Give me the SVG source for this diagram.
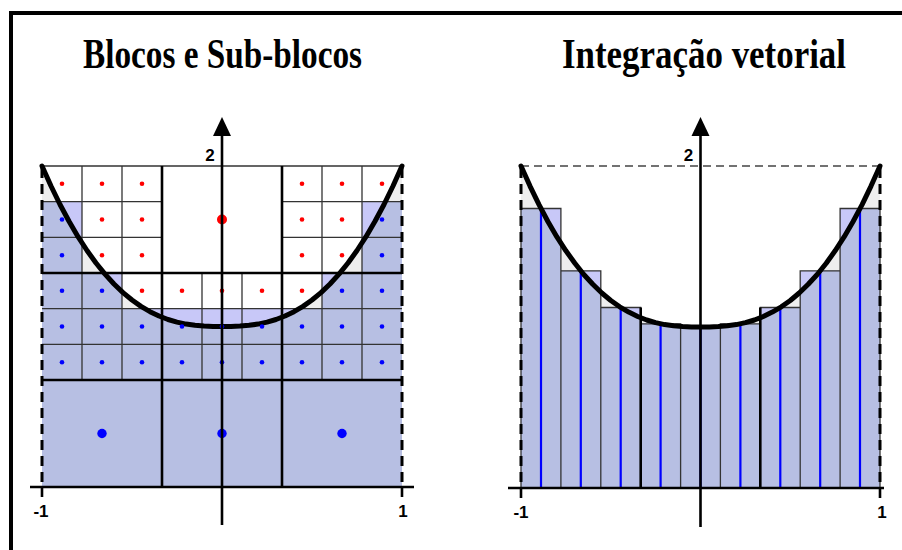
<svg xmlns="http://www.w3.org/2000/svg" width="902" height="550" viewBox="0 0 902 550">
<style>
.title{font-family:"Liberation Serif","Times New Roman",serif;font-weight:bold;font-size:42px;fill:#000}
.lbl{font-family:"Liberation Sans",Arial,sans-serif;font-weight:bold;font-size:17px;fill:#000}
.gray{fill:#eeeeee}
.lav{fill:#c8c8f8}
.dkb{fill:#b7bfe3}
.thin{stroke:#333;stroke-width:1.3;fill:none}
.thick{stroke:#000;stroke-width:2.6;fill:none}
.dash{stroke:#000;stroke-width:3;stroke-dasharray:10 6;fill:none}
.dashg{stroke:#444;stroke-width:1.5;stroke-dasharray:8 5;fill:none}
.curve{stroke:#000;stroke-width:5;fill:none;stroke-linejoin:round;stroke-linecap:round}
.axis{stroke:#000;stroke-width:2.6;fill:none}
.r{fill:#ff0000}
.b{fill:#0000ff}
.bar{fill:none;stroke:#333;stroke-width:1.3}
.vl{stroke:#0000ff;stroke-width:2.2}
</style>
<defs>
<path id="curveL" d="M42,166 L51,186 L60,204.5 L69,221.3 L78,236.7 L87,250.5 L96,263 L105,274.1 L114,284 L123,292.6 L132,300 L141,306.4 L150,311.7 L159,316 L168,319.5 L177,322.1 L186,324.1 L195,325.3 L204,326.1 L213,326.4 L222,326.5 L231,326.4 L240,326.1 L249,325.3 L258,324.1 L267,322.1 L276,319.5 L285,316 L294,311.7 L303,306.4 L312,300 L321,292.6 L330,284 L339,274.1 L348,263 L357,250.5 L366,236.7 L375,221.3 L384,204.5 L393,186 L402,166"/>
<path id="curveR" d="M521,166 L530,186.1 L539,204.6 L547.9,221.5 L556.9,236.9 L565.9,250.8 L574.9,263.3 L583.8,274.5 L592.8,284.3 L601.8,293 L610.8,300.5 L619.7,306.8 L628.7,312.1 L637.7,316.5 L646.7,320 L655.6,322.6 L664.6,324.6 L673.6,325.8 L682.6,326.6 L691.5,326.9 L700.5,327 L709.5,326.9 L718.4,326.6 L727.4,325.8 L736.4,324.6 L745.4,322.6 L754.4,320 L763.3,316.5 L772.3,312.1 L781.3,306.8 L790.3,300.5 L799.2,293 L808.2,284.3 L817.2,274.5 L826.2,263.3 L835.1,250.8 L844.1,236.9 L853.1,221.5 L862.1,204.6 L871,186.1 L880,166"/>
<clipPath id="underL"><path d="M42,166 L51,186 L60,204.5 L69,221.3 L78,236.7 L87,250.5 L96,263 L105,274.1 L114,284 L123,292.6 L132,300 L141,306.4 L150,311.7 L159,316 L168,319.5 L177,322.1 L186,324.1 L195,325.3 L204,326.1 L213,326.4 L222,326.5 L231,326.4 L240,326.1 L249,325.3 L258,324.1 L267,322.1 L276,319.5 L285,316 L294,311.7 L303,306.4 L312,300 L321,292.6 L330,284 L339,274.1 L348,263 L357,250.5 L366,236.7 L375,221.3 L384,204.5 L393,186 L402,166 L402,487 L42,487 Z"/></clipPath>
<clipPath id="underR"><path d="M521,166 L530,186.1 L539,204.6 L547.9,221.5 L556.9,236.9 L565.9,250.8 L574.9,263.3 L583.8,274.5 L592.8,284.3 L601.8,293 L610.8,300.5 L619.7,306.8 L628.7,312.1 L637.7,316.5 L646.7,320 L655.6,322.6 L664.6,324.6 L673.6,325.8 L682.6,326.6 L691.5,326.9 L700.5,327 L709.5,326.9 L718.4,326.6 L727.4,325.8 L736.4,324.6 L745.4,322.6 L754.4,320 L763.3,316.5 L772.3,312.1 L781.3,306.8 L790.3,300.5 L799.2,293 L808.2,284.3 L817.2,274.5 L826.2,263.3 L835.1,250.8 L844.1,236.9 L853.1,221.5 L862.1,204.6 L871,186.1 L880,166 L880,488 L521,488 Z"/></clipPath>
<path id="blueL" d="M42,201.67 h40 v71.33 h-40 Z M362,201.67 h40 v71.33 h-40 Z M42,273 h80 v35.67 h-80 Z M322,273 h80 v35.67 h-80 Z M42,308.67 h360 v178.33 h-360 Z"/>
<path id="barsR" d="M521,208.5 h39.9 v279.5 h-39.9 Z M560.9,270.8 h39.9 v217.2 h-39.9 Z M600.8,307.5 h39.9 v180.5 h-39.9 Z M640.7,323.8 h39.9 v164.2 h-39.9 Z M680.6,327 h39.8 v161 h-39.8 Z M720.4,323.8 h39.9 v164.2 h-39.9 Z M760.3,307.5 h39.9 v180.5 h-39.9 Z M800.2,270.8 h39.9 v217.2 h-39.9 Z M840.1,208.5 h39.9 v279.5 h-39.9 Z"/>
</defs>
<rect x="0" y="0" width="902" height="550" fill="#ffffff"/>
<g id="frame">
<path d="M9,13 H902 M11,11 V550" stroke="#000" stroke-width="4" fill="none"/>
</g>
<g id="titles">
<text class="title" x="83" y="68" textLength="279" lengthAdjust="spacingAndGlyphs">Blocos e Sub-blocos</text>
<text class="title" x="562" y="68" textLength="284" lengthAdjust="spacingAndGlyphs">Integração vetorial</text>
</g>
<g id="panel-left">
<g id="fills-left">
<path class="gray" d="M42,166 L51,186 L60,204.5 L69,221.3 L78,236.7 L87,250.5 L96,263 L105,274.1 L114,284 L123,292.6 L132,300 L141,306.4 L150,311.7 L159,316 L168,319.5 L177,322.1 L186,324.1 L195,325.3 L204,326.1 L213,326.4 L222,326.5 L231,326.4 L240,326.1 L249,325.3 L258,324.1 L267,322.1 L276,319.5 L285,316 L294,311.7 L303,306.4 L312,300 L321,292.6 L330,284 L339,274.1 L348,263 L357,250.5 L366,236.7 L375,221.3 L384,204.5 L393,186 L402,166 L402,487 L42,487 Z"/>
<use href="#blueL" class="lav"/>
<use href="#blueL" class="dkb" clip-path="url(#underL)"/>
</g>
<g id="grid-left">
<path class="thin" d="M42,166 H402 M82,166 V380 M122,166 V380 M322,166 V380 M362,166 V380 M202,273 V380 M242,273 V380 M42,201.67 H162 M282,201.67 H402 M42,237.33 H162 M282,237.33 H402 M42,308.67 H402 M42,344.33 H402"/>
<path class="thick" d="M162,166 V487 M282,166 V487 M42,273 H402 M42,380 H402"/>
<path class="dash" d="M42,168 V487 M402,168 V487"/>
</g>
<use href="#curveL" class="curve"/>
<g id="dots-left">
<circle class="r" cx="62" cy="183.8" r="2.3"/><circle class="r" cx="102" cy="183.8" r="2.3"/><circle class="r" cx="142" cy="183.8" r="2.3"/>
<circle class="b" cx="62" cy="219.5" r="2.3"/><circle class="r" cx="102" cy="219.5" r="2.3"/><circle class="r" cx="142" cy="219.5" r="2.3"/>
<circle class="b" cx="62" cy="255.2" r="2.3"/><circle class="r" cx="102" cy="255.2" r="2.3"/><circle class="r" cx="142" cy="255.2" r="2.3"/>
<circle class="r" cx="302" cy="183.8" r="2.3"/><circle class="r" cx="342" cy="183.8" r="2.3"/><circle class="r" cx="382" cy="183.8" r="2.3"/>
<circle class="r" cx="302" cy="219.5" r="2.3"/><circle class="r" cx="342" cy="219.5" r="2.3"/><circle class="b" cx="382" cy="219.5" r="2.3"/>
<circle class="r" cx="302" cy="255.2" r="2.3"/><circle class="r" cx="342" cy="255.2" r="2.3"/><circle class="b" cx="382" cy="255.2" r="2.3"/>
<circle class="r" cx="222" cy="219.5" r="5"/>
<circle class="b" cx="62" cy="290.8" r="2.3"/><circle class="b" cx="102" cy="290.8" r="2.3"/><circle class="r" cx="142" cy="290.8" r="2.3"/><circle class="r" cx="182" cy="290.8" r="2.3"/><circle class="r" cx="222" cy="290.8" r="2.3"/><circle class="r" cx="262" cy="290.8" r="2.3"/><circle class="r" cx="302" cy="290.8" r="2.3"/><circle class="b" cx="342" cy="290.8" r="2.3"/><circle class="b" cx="382" cy="290.8" r="2.3"/>
<circle class="b" cx="62" cy="326.5" r="2.3"/><circle class="b" cx="102" cy="326.5" r="2.3"/><circle class="b" cx="142" cy="326.5" r="2.3"/><circle class="b" cx="182" cy="326.5" r="2.3"/><circle class="b" cx="222" cy="326.5" r="2.3"/><circle class="b" cx="262" cy="326.5" r="2.3"/><circle class="b" cx="302" cy="326.5" r="2.3"/><circle class="b" cx="342" cy="326.5" r="2.3"/><circle class="b" cx="382" cy="326.5" r="2.3"/>
<circle class="b" cx="62" cy="362.2" r="2.3"/><circle class="b" cx="102" cy="362.2" r="2.3"/><circle class="b" cx="142" cy="362.2" r="2.3"/><circle class="b" cx="182" cy="362.2" r="2.3"/><circle class="b" cx="222" cy="362.2" r="2.3"/><circle class="b" cx="262" cy="362.2" r="2.3"/><circle class="b" cx="302" cy="362.2" r="2.3"/><circle class="b" cx="342" cy="362.2" r="2.3"/><circle class="b" cx="382" cy="362.2" r="2.3"/>
<circle class="b" cx="102" cy="433.5" r="4.7"/><circle class="b" cx="222" cy="433.5" r="4.7"/><circle class="b" cx="342" cy="433.5" r="4.7"/>
</g>
<g id="axes-left">
<path class="axis" d="M30,487 H414 M222,134 V525 M42,487 V497 M402,487 V497"/>
<path d="M222,117 L213,136 L231,136 Z" fill="#000"/>
<text class="lbl" x="210" y="161" text-anchor="middle">2</text>
<text class="lbl" x="41" y="517" text-anchor="middle">-1</text>
<text class="lbl" x="403" y="517" text-anchor="middle">1</text>
</g>
</g>
<g id="panel-right">
<g id="fills-right">
<path class="gray" d="M521,166 L530,186.1 L539,204.6 L547.9,221.5 L556.9,236.9 L565.9,250.8 L574.9,263.3 L583.8,274.5 L592.8,284.3 L601.8,293 L610.8,300.5 L619.7,306.8 L628.7,312.1 L637.7,316.5 L646.7,320 L655.6,322.6 L664.6,324.6 L673.6,325.8 L682.6,326.6 L691.5,326.9 L700.5,327 L709.5,326.9 L718.4,326.6 L727.4,325.8 L736.4,324.6 L745.4,322.6 L754.4,320 L763.3,316.5 L772.3,312.1 L781.3,306.8 L790.3,300.5 L799.2,293 L808.2,284.3 L817.2,274.5 L826.2,263.3 L835.1,250.8 L844.1,236.9 L853.1,221.5 L862.1,204.6 L871,186.1 L880,166 L880,488 L521,488 Z"/>
<use href="#barsR" class="lav"/>
<use href="#barsR" class="dkb" clip-path="url(#underR)"/>
</g>
<g id="bars-right">
<use href="#barsR" class="bar"/>
<path class="vl" d="M541,488 V208.5 M580.8,488 V270.8 M620.7,488 V307.5 M660.6,488 V323.8 M700.5,488 V327 M740.4,488 V323.8 M780.3,488 V307.5 M820.2,488 V270.8 M860,488 V208.5"/>
<path class="thick" d="M640.7,488 V307.5 M760.3,488 V307.5"/>
<path class="dashg" d="M521,166 H880"/>
<path class="dash" d="M521,168 V488 M880,168 V488"/>
</g>
<use href="#curveR" class="curve"/>
<g id="axes-right">
<path class="axis" d="M508,488 H884 M700.5,134 V527 M521,488 V498 M880,488 V498"/>
<path d="M700.5,117 L691.5,136 L709.5,136 Z" fill="#000"/>
<text class="lbl" x="688.5" y="161" text-anchor="middle">2</text>
<text class="lbl" x="521" y="518" text-anchor="middle">-1</text>
<text class="lbl" x="882" y="518" text-anchor="middle">1</text>
</g>
</g>
</svg>
